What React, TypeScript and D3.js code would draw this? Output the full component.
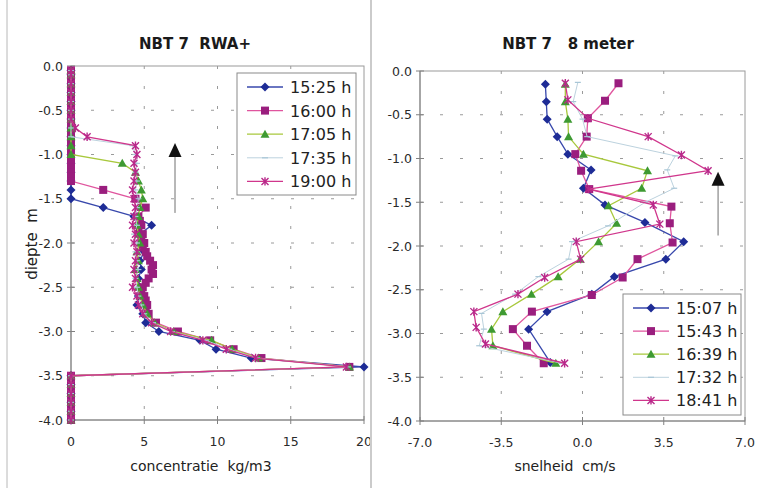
import React from 'react';
import * as d3 from 'd3';

// [depth m, value]
type Pt = [number, number];

const FONT = '"DejaVu Sans", Arial, sans-serif';

// ---------- Left chart: concentration profiles (kg/m3) ----------
const concTimes = ['15:25 h', '16:00 h', '17:05 h', '17:35 h', '19:00 h'];

const conc1525: Pt[] = [
  [-0.05, 0], [-0.1, 0], [-0.2, 0], [-0.3, 0], [-0.4, 0], [-0.5, 0], [-0.6, 0], [-0.7, 0], [-0.8, 0],
  [-0.9, 0], [-1.0, 0], [-1.1, 0], [-1.2, 0], [-1.3, 0], [-1.4, 0], [-1.5, 0], [-1.6, 2.2], [-1.7, 4.3],
  [-1.8, 5.5], [-1.9, 4.7], [-2.0, 4.9], [-2.1, 5.0], [-2.2, 4.7], [-2.3, 4.8], [-2.4, 4.6], [-2.5, 4.7],
  [-2.6, 4.6], [-2.7, 4.5], [-2.8, 4.9], [-2.9, 5.1], [-3.0, 6.0], [-3.1, 8.8], [-3.2, 9.9], [-3.3, 12.3],
  [-3.4, 20.0], [-3.5, 0], [-3.6, 0], [-3.7, 0], [-3.8, 0], [-3.9, 0], [-4.0, 0],
];
const conc1600: Pt[] = [
  [-0.05, 0], [-0.1, 0], [-0.15, 0], [-0.2, 0], [-0.25, 0], [-0.3, 0], [-0.35, 0], [-0.4, 0], [-0.45, 0],
  [-0.5, 0], [-0.55, 0], [-0.6, 0], [-0.65, 0], [-0.7, 0], [-0.75, 0], [-0.8, 0], [-0.85, 0], [-0.9, 0],
  [-0.95, 0], [-1.0, 0], [-1.05, 0], [-1.1, 0], [-1.15, 0], [-1.2, 0], [-1.25, 0], [-1.3, 0],
  [-1.4, 2.2], [-1.5, 4.4], [-1.6, 5.1], [-1.7, 4.6], [-1.75, 4.7], [-1.8, 4.8], [-1.85, 4.6], [-1.9, 4.9],
  [-1.95, 4.8], [-2.0, 5.0], [-2.05, 4.9], [-2.1, 5.1], [-2.15, 5.2], [-2.2, 5.4], [-2.25, 5.6],
  [-2.3, 5.5], [-2.35, 5.6], [-2.4, 5.3], [-2.45, 5.1], [-2.5, 4.9], [-2.55, 4.8], [-2.6, 5.0],
  [-2.65, 5.1], [-2.7, 5.2], [-2.75, 5.1], [-2.8, 5.3], [-2.9, 5.8], [-3.0, 7.3], [-3.1, 9.5],
  [-3.2, 11.1], [-3.3, 13.0], [-3.4, 19.0], [-3.5, 0], [-3.55, 0], [-3.6, 0], [-3.65, 0], [-3.7, 0],
  [-3.75, 0], [-3.8, 0], [-3.85, 0], [-3.9, 0], [-3.95, 0], [-4.0, 0],
];
const conc1705: Pt[] = [
  [-0.05, 0], [-0.1, 0], [-0.2, 0], [-0.3, 0], [-0.4, 0], [-0.5, 0], [-0.6, 0], [-0.7, 0], [-0.8, 0],
  [-0.9, 0], [-1.0, 0], [-1.1, 3.5], [-1.2, 4.4], [-1.3, 4.6], [-1.4, 4.8], [-1.5, 4.9], [-1.6, 4.7],
  [-1.7, 4.6], [-1.8, 4.5], [-1.9, 4.6], [-2.0, 4.7], [-2.1, 4.5], [-2.2, 4.6], [-2.3, 4.4], [-2.4, 4.5],
  [-2.5, 4.6], [-2.6, 4.7], [-2.7, 4.9], [-2.8, 5.2], [-2.9, 5.7], [-3.0, 7.0], [-3.1, 9.6], [-3.2, 11.0],
  [-3.3, 12.8], [-3.4, 19.0], [-3.5, 0], [-3.6, 0], [-3.7, 0], [-3.8, 0], [-3.9, 0], [-4.0, 0],
];
const conc1735: Pt[] = [
  [-0.05, 0], [-0.1, 0], [-0.2, 0], [-0.3, 0], [-0.4, 0], [-0.5, 0], [-0.6, 0], [-0.7, 0], [-0.8, 0],
  [-0.9, 4.2], [-1.0, 4.4], [-1.1, 4.5], [-1.2, 4.4], [-1.3, 4.5], [-1.4, 4.4], [-1.5, 4.6], [-1.6, 4.5],
  [-1.7, 4.4], [-1.8, 4.5], [-1.9, 4.3], [-2.0, 4.5], [-2.1, 4.4], [-2.2, 4.5], [-2.3, 4.6], [-2.4, 4.4],
  [-2.5, 4.5], [-2.6, 4.6], [-2.7, 4.8], [-2.8, 5.0], [-2.9, 5.6], [-3.0, 6.9], [-3.1, 9.2], [-3.2, 10.8],
  [-3.3, 12.7], [-3.4, 18.9], [-3.5, 0], [-3.6, 0], [-3.7, 0], [-3.8, 0], [-3.9, 0], [-4.0, 0],
];
const conc1900: Pt[] = [
  [-0.05, 0], [-0.1, 0], [-0.2, 0], [-0.3, 0], [-0.4, 0], [-0.5, 0], [-0.6, 0], [-0.7, 0.3], [-0.8, 1.1],
  [-0.9, 4.4], [-1.0, 4.5], [-1.1, 4.3], [-1.2, 4.4], [-1.3, 4.3], [-1.4, 4.2], [-1.5, 4.3], [-1.6, 4.4],
  [-1.7, 4.3], [-1.8, 4.2], [-1.9, 4.4], [-2.0, 4.3], [-2.1, 4.5], [-2.2, 4.4], [-2.3, 4.3], [-2.4, 4.4],
  [-2.5, 4.2], [-2.6, 4.5], [-2.7, 4.6], [-2.8, 4.9], [-2.9, 5.5], [-3.0, 6.8], [-3.1, 9.0], [-3.2, 10.6],
  [-3.3, 12.6], [-3.4, 18.8], [-3.5, 0], [-3.6, 0], [-3.7, 0], [-3.8, 0], [-3.9, 0], [-4.0, 0],
];

const concXTicks = [0, 5, 10, 15, 20];
const concXLabels = ['0', '5', '10', '15', '20'];

// ---------- Right chart: velocity profiles (cm/s) ----------
const velTimes = ['15:07 h', '15:43 h', '16:39 h', '17:32 h', '18:41 h'];

const vel1507: Pt[] = [
  [-0.15, -1.6], [-0.35, -1.56], [-0.55, -1.52], [-0.75, -1.09], [-0.95, -0.63], [-1.13, 0.37],
  [-1.34, 0.04], [-1.53, 0.97], [-1.73, 2.69], [-1.95, 4.36], [-2.15, 3.59], [-2.35, 1.37], [-2.55, 0.4],
  [-2.75, -1.53], [-2.95, -2.32], [-3.33, -1.39],
];
const vel1543: Pt[] = [
  [-0.14, 1.55], [-0.34, 0.97], [-0.54, 0.23], [-0.75, 0.18], [-0.95, -0.31], [-1.14, -0.06],
  [-1.35, 0.29], [-1.55, 3.83], [-1.74, 3.76], [-1.96, 3.88], [-2.15, 2.37], [-2.36, 1.73], [-2.56, 0.4],
  [-2.75, -2.18], [-2.95, -3.0], [-3.14, -2.39], [-3.34, -1.67],
];
const vel1639: Pt[] = [
  [-0.15, -0.74], [-0.35, -0.74], [-0.55, -0.63], [-0.75, -0.6], [-0.95, 0.04], [-1.14, 2.8],
  [-1.34, 2.55], [-1.54, 1.12], [-1.74, 1.47], [-1.95, 0.69], [-2.15, -0.1], [-2.35, -1.05], [-2.55, -2.2],
  [-2.75, -3.43], [-2.95, -3.92], [-3.14, -3.86], [-3.34, -1.15],
];
const vel1732: Pt[] = [
  [-0.13, -0.2], [-0.35, -0.4], [-0.55, 0.0], [-0.75, 0.2], [-0.97, 4.0], [-1.13, 3.65], [-1.34, 3.95],
  [-1.5, 2.7], [-1.77, 1.1], [-1.95, -0.45], [-2.15, -0.6], [-2.35, -1.9], [-2.55, -2.9], [-2.77, -4.35],
  [-2.95, -4.25], [-3.14, -4.45], [-3.34, -0.9],
];
const vel1841: Pt[] = [
  [-0.14, -0.74], [-0.33, -0.63], [-0.54, 0.23], [-0.75, 2.83], [-0.96, 4.26], [-1.14, 5.41],
  [-1.35, 0.26], [-1.53, 3.05], [-1.75, 3.33], [-1.95, -0.27], [-2.15, -0.08], [-2.36, -1.63],
  [-2.55, -2.78], [-2.75, -4.68], [-2.93, -4.58], [-3.12, -4.18], [-3.34, -0.77],
];

const velXTicks = [-7, -3.5, 0, 3.5, 7];
const depthTicks = [0, -0.5, -1, -1.5, -2, -2.5, -3, -3.5, -4];

// upward arrows: [x value, head tip depth, tail depth]
const concArrow = [7.1, -0.87, -1.66];
const velArrow = [5.84, -1.15, -1.88];

type Shape = 'diamond' | 'square' | 'triangle' | 'dash' | 'star';
interface SeriesStyle { line: string; marker: string; shape: Shape; width: number }

const styles: SeriesStyle[] = [
  { line: '#3848AC', marker: '#1E2C96', shape: 'diamond', width: 1.3 },
  { line: '#E0559E', marker: '#9A1E7E', shape: 'square', width: 1.3 },
  { line: '#A8C83C', marker: '#3E9A32', shape: 'triangle', width: 1.3 },
  { line: '#BCD2DE', marker: '#A8C6D6', shape: 'dash', width: 1 },
  { line: '#D0368C', marker: '#B8288A', shape: 'star', width: 1.3 },
];

function Marker({ x, y, s }: { x: number; y: number; s: SeriesStyle }) {
  const t = `translate(${x},${y})`;
  switch (s.shape) {
    case 'diamond':
      return <path transform={t} d="M0,-4.5L4.5,0L0,4.5L-4.5,0Z" fill={s.marker} />;
    case 'square':
      return <rect transform={t} x={-4} y={-4} width={8} height={8} fill={s.marker} />;
    case 'triangle':
      return <path transform={t} d="M0,-4.5L4.5,3.5L-4.5,3.5Z" fill={s.marker} />;
    case 'dash':
      return <path transform={t} d="M-3,0L3,0" stroke={s.marker} strokeWidth={1.2} />;
    default:
      return (
        <path transform={t} d="M-3.5,-3.5L3.5,3.5M-3.5,3.5L3.5,-3.5M0,-4.2L0,4.2"
          stroke={s.marker} strokeWidth={1.4} fill="none" />
      );
  }
}

type Scale = d3.ScaleLinear<number, number>;

function Series({ data, xs, ys, s }: { data: Pt[]; xs: Scale; ys: Scale; s: SeriesStyle }) {
  const line = d3.line<Pt>().x(d => xs(d[1])).y(d => ys(d[0]));
  return (
    <g>
      <path d={line(data) || ''} fill="none" stroke={s.line} strokeWidth={s.width} />
      {data.map((d, i) => <Marker key={i} x={xs(d[1])} y={ys(d[0])} s={s} />)}
    </g>
  );
}

function Legend({ x, y, w, h, rows, labels }: { x: number; y: number; w: number; h: number; rows: number; labels: string[] }) {
  return (
    <g>
      <rect x={x} y={y} width={w} height={h} fill="#fff" stroke="#8a8a8a" strokeWidth={1} />
      {labels.map((lab, i) => {
        const cy = y + 14 + i * rows;
        const s = styles[i];
        return (
          <g key={lab}>
            <line x1={x + 10} x2={x + 46} y1={cy} y2={cy} stroke={s.line} strokeWidth={s.width} />
            <Marker x={x + 28} y={cy} s={s} />
            <text x={x + 53} y={cy + 6} fontFamily={FONT} fontSize={16} fill="#222">{lab}</text>
          </g>
        );
      })}
    </g>
  );
}

function Frame({ xs, ys, xTicks, xLabels }: { xs: Scale; ys: Scale; xTicks: number[]; xLabels: string[] }) {
  const [x0, x1] = xs.range();
  const [y0, y1] = ys.range();
  const grid = '#9a9a9a';
  return (
    <g>
      {depthTicks.slice(1, -1).map(t => (
        <line key={'h' + t} x1={x0} x2={x1} y1={ys(t)} y2={ys(t)} stroke={grid} strokeWidth={1} strokeDasharray="3,17" />
      ))}
      {xTicks.slice(1, -1).map(t => (
        <line key={'v' + t} x1={xs(t)} x2={xs(t)} y1={y0} y2={y1} stroke={grid} strokeWidth={1} strokeDasharray="3,17" />
      ))}
      <rect x={x0} y={y0} width={x1 - x0} height={y1 - y0} fill="none" stroke="#9a9a9a" strokeWidth={1} />
      <line x1={x0} x2={x0} y1={y0} y2={y1} stroke="#808080" strokeWidth={1} />
      <line x1={x0} x2={x1} y1={y1} y2={y1} stroke="#808080" strokeWidth={1} />
      {depthTicks.map(t => (
        <g key={'yt' + t}>
          <line x1={x0 - 4} x2={x0 + 4} y1={ys(t)} y2={ys(t)} stroke="#808080" />
          <text x={x0 - 8} y={ys(t) + 4.5} textAnchor="end" fontFamily={FONT} fontSize={12.5} fill="#2a2a2a">
            {t.toFixed(1)}
          </text>
        </g>
      ))}
      {xTicks.map((t, i) => (
        <g key={'xt' + t}>
          <line x1={xs(t)} x2={xs(t)} y1={y1 - 4} y2={y1 + 4} stroke="#808080" />
          <text x={xs(t)} y={y1 + 26} textAnchor="middle" fontFamily={FONT} fontSize={12.5} fill="#2a2a2a">
            {xLabels[i]}
          </text>
        </g>
      ))}
    </g>
  );
}

function Arrow({ xs, ys, a }: { xs: Scale; ys: Scale; a: number[] }) {
  const x = xs(a[0]);
  const tip = ys(a[1]);
  const tail = ys(a[2]);
  return (
    <g>
      <line x1={x} x2={x} y1={tip + 12} y2={tail} stroke="#707070" strokeWidth={1} />
      <path d={`M${x},${tip}L${x + 6.5},${tip + 14}L${x - 6.5},${tip + 14}Z`} fill="#111" />
    </g>
  );
}

export default function App() {
  const xL = d3.scaleLinear().domain([0, 20]).range([71, 364]);
  const yL = d3.scaleLinear().domain([0, -4]).range([66, 420]);
  const xR = d3.scaleLinear().domain([-7, 7]).range([420, 745]);
  const yR = d3.scaleLinear().domain([0, -4]).range([71, 421]);
  const concSeries = [conc1525, conc1600, conc1705, conc1735, conc1900];
  const velSeries = [vel1507, vel1543, vel1639, vel1732, vel1841];

  return (
    <svg width={760} height={488} viewBox="0 0 760 488"
      style={{ position: 'absolute', left: 0, top: 0, background: '#fff' }}>
      <defs>
        <clipPath id="leftPanel"><rect x={0} y={0} width={370} height={488} /></clipPath>
      </defs>
      <rect x={0} y={0} width={760} height={488} fill="#fff" />
      <line x1={7} x2={7} y1={0} y2={488} stroke="#b8b8b8" strokeWidth={1} />
      <line x1={371} x2={371} y1={0} y2={488} stroke="#a8a8a8" strokeWidth={1.2} />

      <g clipPath="url(#leftPanel)">
        <text x={195} y={49} textAnchor="middle" fontFamily={FONT} fontWeight="bold" fontSize={15}
          fill="#1a1a1a" style={{ whiteSpace: 'pre' }}>{'NBT 7  RWA+'}</text>
        <Frame xs={xL} ys={yL} xTicks={concXTicks} xLabels={concXLabels} />
        {concSeries.map((d, i) => <Series key={i} data={d} xs={xL} ys={yL} s={styles[i]} />)}
        <Arrow xs={xL} ys={yL} a={concArrow} />
        <Legend x={237} y={73} w={119} h={122} rows={23.6} labels={concTimes} />
        <text x={201} y={471} textAnchor="middle" fontFamily={FONT} fontSize={14} fill="#222"
          style={{ whiteSpace: 'pre' }}>{'concentratie  kg/m3'}</text>
        <text transform="translate(37,244) rotate(-90)" textAnchor="middle" fontFamily={FONT} fontSize={15}
          fill="#222" style={{ whiteSpace: 'pre' }}>{'diepte  m'}</text>
      </g>

      <g>
        <text x={568} y={49} textAnchor="middle" fontFamily={FONT} fontWeight="bold" fontSize={15}
          fill="#1a1a1a" style={{ whiteSpace: 'pre' }}>{'NBT 7   8 meter'}</text>
        <Frame xs={xR} ys={yR} xTicks={velXTicks} xLabels={velXTicks.map(t => t.toFixed(1))} />
        {velSeries.map((d, i) => <Series key={i} data={d} xs={xR} ys={yR} s={styles[i]} />)}
        <Arrow xs={xR} ys={yR} a={velArrow} />
        <Legend x={623} y={294} w={118} h={121} rows={23.1} labels={velTimes} />
        <text x={565} y={471} textAnchor="middle" fontFamily={FONT} fontSize={14} fill="#222"
          style={{ whiteSpace: 'pre' }}>{'snelheid  cm/s'}</text>
      </g>
    </svg>
  );
}
